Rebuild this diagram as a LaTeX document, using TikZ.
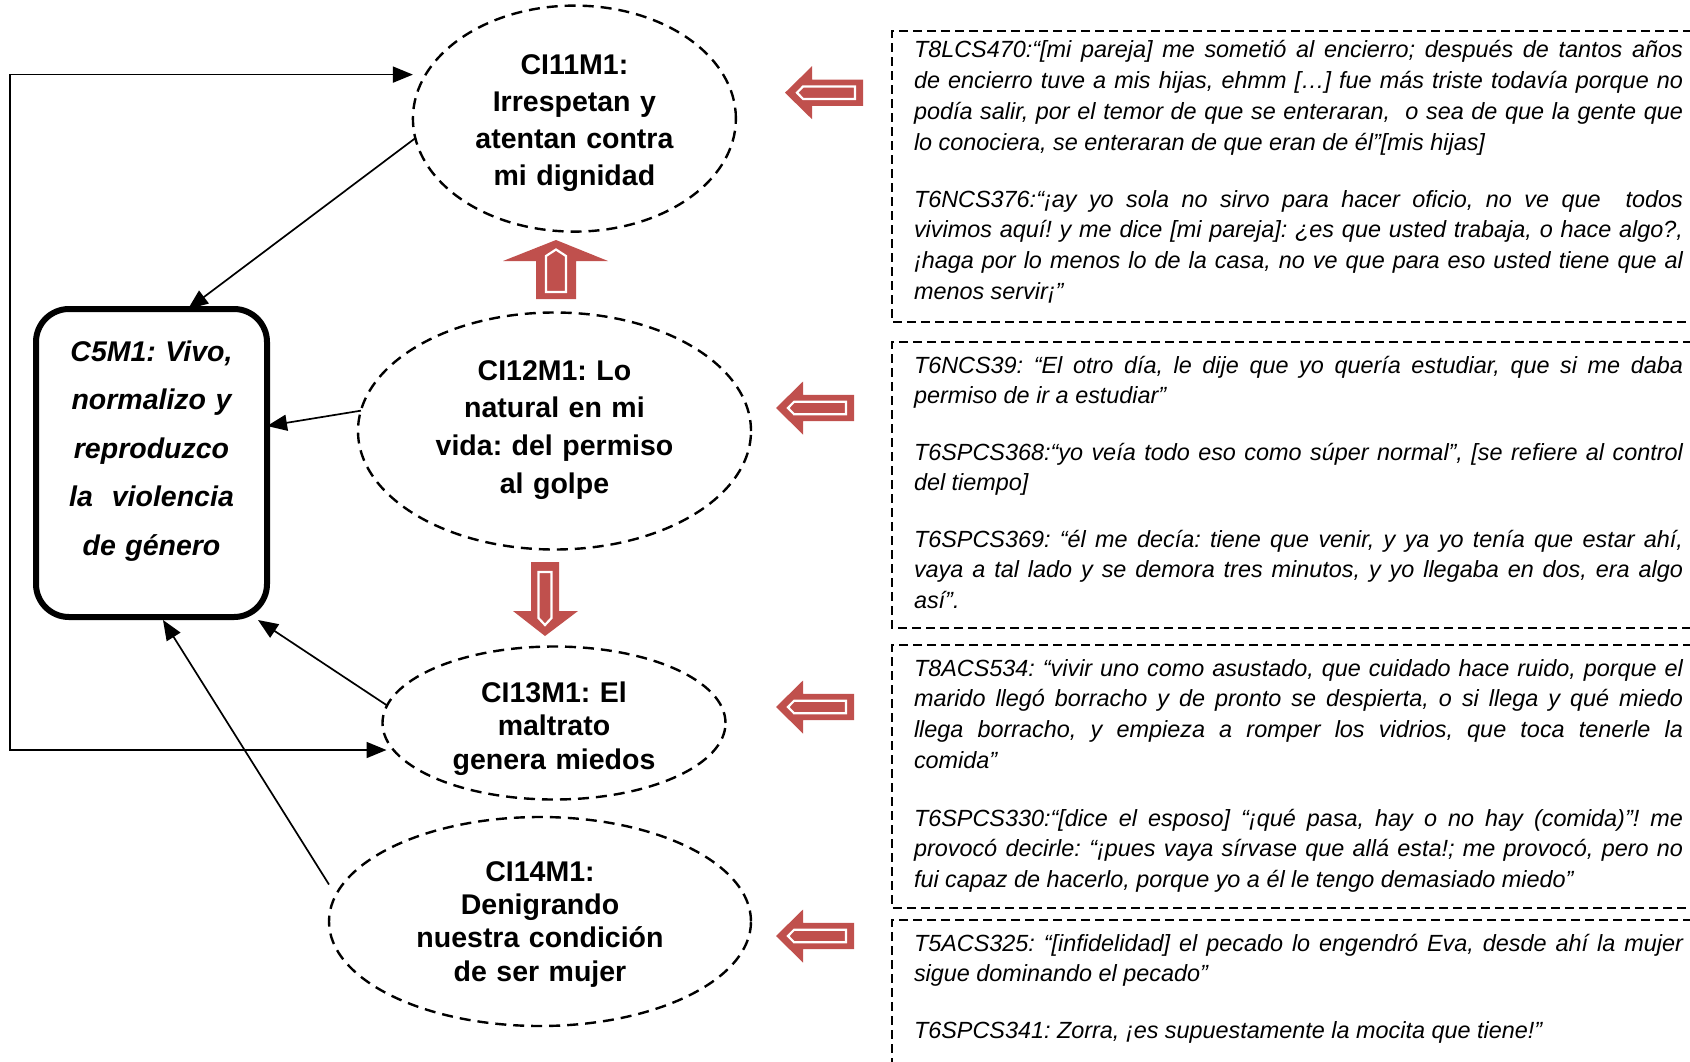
\documentclass[tikz,border=0pt]{standalone}
\usepackage{fontspec}
\setmainfont{Liberation Sans}
\usetikzlibrary{arrows.meta,calc,shapes.geometric}
\definecolor{blockred}{HTML}{C0504D}

% word spacing of the quotations (free to stretch in justified lines)
\newcommand{\qs}{\spaceskip=.278em plus .8em minus .06em\xspaceskip=\spaceskip\relax}
% one justified line of a quotation
\newcommand{\jl}[1]{\makebox[769pt][s]{\qs #1}}

% hollow red block arrow pointing left, tip at (#1,#2)
\newcommand{\redleft}[2]{%
  \fill[blockred] (#1,#2) -- ++(27,-26.5) -- ++(0,13.3) -- ++(51,0) -- ++(0,26.4)
        -- ++(-51,0) -- ++(0,13.3) -- cycle;
  \draw[white, line width=2.2pt] ({#1+12},#2) -- ++(6,-6.2) -- ++(52,0) -- ++(0,12.4)
        -- ++(-52,0) -- cycle;
}

\tikzset{
  cat/.style={ellipse, draw, line width=2.4pt, dash pattern=on 11pt off 7pt,
              inner sep=0pt, outer sep=0pt},
  cattext/.style={anchor=base, inner sep=0pt, text width=360pt, align=center,
              font=\bfseries\fontsize{28.5}{37}\selectfont},
  core/.style={draw, line width=6pt, rounded corners=33pt, minimum width=231pt,
              minimum height=308pt, inner sep=0pt, outer sep=0pt},
  coretext/.style={anchor=base, inner sep=0pt, text width=230pt, align=center,
              font=\bfseries\itshape\fontsize{28.5}{48.5}\selectfont},
  quote/.style={anchor=base west, inner sep=0pt, outer sep=0pt, text width=769pt,
              align=left, font=\itshape\fontsize{23.4}{30.8}\selectfont},
  qbox/.style={line width=2.4pt, dash pattern=on 9pt off 5pt},
  conn/.style={line width=1.7pt, -{Triangle[length=20pt,width=16pt]}},
  loopconn/.style={line width=1.7pt,
              {Triangle[length=20pt,width=16pt]}-{Triangle[length=20pt,width=16pt]}},
}

\begin{document}
\frenchspacing
\begin{tikzpicture}[x=1pt,y=-1pt]
\useasboundingbox (0,0) rectangle (1690,1061);
\clip (0,0) rectangle (1690,1061);

% ---- category ellipses ----
\node[cat, minimum width=323pt, minimum height=226pt] (E1) at (574.4,118.6) {};
\node[cat, minimum width=393pt, minimum height=237pt] (E2) at (554.5,431) {};
\node[cat, minimum width=343pt, minimum height=153pt] (E3) at (554,723) {};
\node[cat, minimum width=422pt, minimum height=209pt] (E4) at (540,921.5) {};

\node[cattext] (t1) at (574.4,74.7) {CI11M1:\\Irrespetan y\\atentan contra\\mi dignidad};
\node[cattext, font=\bfseries\fontsize{28.5}{37.7}\selectfont] (t2) at (554.5,380)
     {CI12M1: Lo\\natural en mi\\vida: del permiso\\al golpe};
\node[cattext, font=\bfseries\fontsize{28.5}{33.5}\selectfont] (t3) at (554,702)
     {CI13M1: El\\maltrato\\genera miedos};
\node[cattext, font=\bfseries\fontsize{28.5}{33.4}\selectfont] (t4) at (540,881)
     {CI14M1:\\Denigrando\\nuestra condición\\de ser mujer};

% ---- core category ----
\node[core] (C5) at (151.5,463) {};
\node[coretext] (t0) at (151.5,361)
     {C5M1: Vivo,\\normalizo y\\reproduzco\\la\ \ violencia\\de género};

% ---- connector end points ----
\path (E1.west) ++(0,-44) coordinate (e1in);
\path (E3.west) ++(4,27) coordinate (e3in);
\path (E4.west) ++(0,-37) coordinate (s4);
\path (C5.north) ++(36.5,0) coordinate (b1);
\path (C5.east) ++(0,-37) coordinate (b2);
\path (C5.south east) ++(-9,3) coordinate (b3);
\path (C5.south) ++(11.5,3) coordinate (b4);

% ---- connectors ----
\draw[loopconn] (e1in) -- ++(-403,0) |- (e3in);
\draw[conn] (E1.187) -- (b1);
\draw[conn] (E2.174) -- (b2);
\draw[conn] (E3.174) -- (b3);
\draw[conn] (s4) -- (b4);

% ---- red block arrows ----
\fill[blockred] (556,240) -- (608,261) -- (576,261) -- (576,299) -- (536,299)
      -- (536,261) -- (503,261) -- cycle;
\draw[white, line width=2.2pt] (556,249.5) -- (566,256) -- (566,292) -- (546,292)
      -- (546,256) -- cycle;
\fill[blockred] (545,636) -- (513,611) -- (531,611) -- (531,562) -- (559,562)
      -- (559,611) -- (578,611) -- cycle;
\draw[white, line width=2.2pt] (545,625) -- (538.5,618) -- (538.5,572) -- (551.5,572)
      -- (551.5,618) -- cycle;
\redleft{785}{92.7}
\redleft{776}{408}
\redleft{776}{707}
\redleft{776}{936}

% ---- quotation boxes ----
\draw[qbox] (1720,31) -- (892,31) -- (892,322) -- (1720,322);
\draw[qbox] (1720,342) -- (892,342) -- (892,628) -- (1720,628);
\draw[qbox] (1720,645) -- (892,645) -- (892,908) -- (1720,908);
\draw[qbox] (1720,920) -- (892,920) -- (892,1080);

\node[quote] (q1a) at (914,57.7) {\qs
\jl{T8LCS470:“[mi pareja] me sometió al encierro; después de tantos años}\\
\jl{de encierro tuve a mis hijas, ehmm […] fue más triste todavía porque no}\\
\jl{podía salir, por el temor de que se enteraran,\ \ o sea de que la gente que}\\
lo conociera, se enteraran de que eran de él”[mis hijas]};
\node[quote] (q1b) at (914,207) {\qs
\jl{T6NCS376:“¡ay yo sola no sirvo para hacer oficio, no ve que\ \ todos}\\
\jl{vivimos aquí! y me dice [mi pareja]: ¿es que usted trabaja, o hace algo?,}\\
\jl{¡haga por lo menos lo de la casa, no ve que para eso usted tiene que al}\\
menos servir¡”};

\node[quote] (q2a) at (914,373) {\qs
\jl{T6NCS39: “El otro día, le dije que yo quería estudiar, que si me daba}\\
permiso de ir a estudiar”};
\node[quote] (q2b) at (914,460) {\qs
\jl{T6SPCS368:“yo veía todo eso como súper normal”, [se refiere al control}\\
del tiempo]};
\node[quote] (q2c) at (914,547) {\qs
\jl{T6SPCS369: “él me decía: tiene que venir, y ya yo tenía que estar ahí,}\\
\jl{vaya a tal lado y se demora tres minutos, y yo llegaba en dos, era algo}\\
así”.};

\node[quote] (q3a) at (914,676) {\qs
\jl{T8ACS534: “vivir uno como asustado, que cuidado hace ruido, porque el}\\
\jl{marido llegó borracho y de pronto se despierta, o si llega y qué miedo}\\
\jl{llega borracho, y empieza a romper los vidrios, que toca tenerle la}\\
comida”};
\node[quote] (q3b) at (914,826) {\qs
\jl{T6SPCS330:“[dice el esposo] “¡qué pasa, hay o no hay (comida)”! me}\\
\jl{provocó decirle: “¡pues vaya sírvase que allá esta!; me provocó, pero no}\\
fui capaz de hacerlo, porque yo a él le tengo demasiado miedo”};

\node[quote] (q4a) at (914,951) {\qs
\jl{T5ACS325: “[infidelidad] el pecado lo engendró Eva, desde ahí la mujer}\\
sigue dominando el pecado”};
\node[quote] (q4b) at (914,1038) {\qs
T6SPCS341: Zorra, ¡es supuestamente la mocita que tiene!”};
\end{tikzpicture}
\end{document}
